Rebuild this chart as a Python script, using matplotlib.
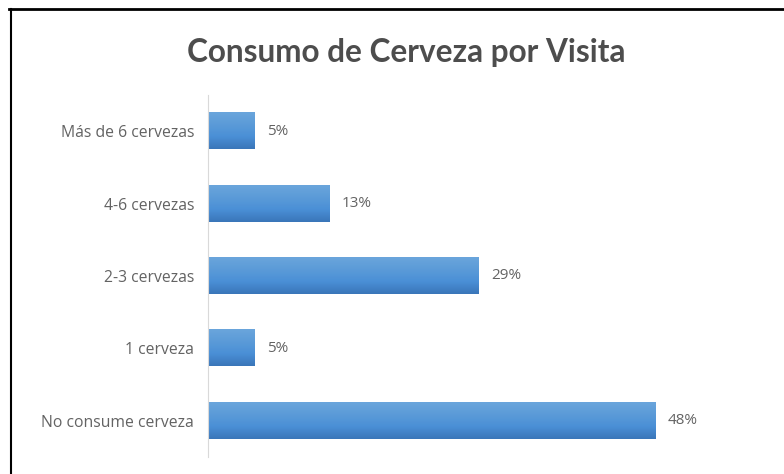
"""Horizontal bar chart: beer consumption per visit (share of respondents)."""

import matplotlib
matplotlib.use("Agg")
import matplotlib.pyplot as plt
from matplotlib.colors import LinearSegmentedColormap
from matplotlib.lines import Line2D
import numpy as np

CATEGORIES = [
    "No consume cerveza",
    "1 cerveza",
    "2-3 cervezas",
    "4-6 cervezas",
    "Más de 6 cervezas",
]
SHARES = [48, 5, 29, 13, 5]
VALUE_LABELS = ["48%", "5%", "29%", "13%", "5%"]
TITLE = "Consumo de Cerveza por Visita"

TEXT_GRAY = "#636363"
AXIS_GRAY = "#d9d9d9"
BAR_HEIGHT = 0.5
LABEL_FONT = ["Open Sans", "DejaVu Sans"]

# darker bottom edge, lighter top edge
BAR_CMAP = LinearSegmentedColormap.from_list(
    "bar_fill", ["#3a76b9", "#4a8fd6", "#5b9bd8", "#6aa5dc"]
)

plt.rcParams["font.family"] = ["Lato", "DejaVu Sans"]

fig = plt.figure(figsize=(7.84, 4.74), dpi=100)
ax = fig.add_axes([0.2653, 0.0359, 0.654, 0.7637])

ypos = np.arange(len(CATEGORIES))
bars = ax.barh(ypos, SHARES, height=BAR_HEIGHT, color="none", edgecolor="none")

gradient = np.linspace(0, 1, 64).reshape(-1, 1)
for bar in bars:
    x0, y0 = bar.get_x(), bar.get_y()
    w, h = bar.get_width(), bar.get_height()
    ax.imshow(
        gradient,
        cmap=BAR_CMAP,
        extent=(x0, x0 + w, y0, y0 + h),
        origin="lower",
        aspect="auto",
        interpolation="bicubic",
        zorder=2,
    )

for y, share, label in zip(ypos, SHARES, VALUE_LABELS):
    ax.annotate(
        label,
        xy=(share, y),
        xytext=(9, 0),
        textcoords="offset points",
        ha="left",
        va="center",
        fontsize=11,
        color=TEXT_GRAY,
        family=LABEL_FONT,
    )

ax.set_xlim(0, 55)
ax.set_ylim(-0.5, len(CATEGORIES) - 0.5)
ax.set_yticks(ypos)
ax.set_yticklabels(CATEGORIES, fontsize=11.3, color=TEXT_GRAY, family=LABEL_FONT)
ax.tick_params(axis="y", length=0, pad=10)
ax.set_xticks([])
for side in ("top", "right", "bottom"):
    ax.spines[side].set_visible(False)
ax.spines["left"].set_color(AXIS_GRAY)
ax.spines["left"].set_linewidth(0.8)

fig.text(
    0.518, 0.889, TITLE,
    ha="center", va="center",
    fontsize=22.7, color="#4d4d4d", fontweight="bold",
)

# frame lines along the top and left edges
fig.add_artist(Line2D([0.012, 1.0], [0.981, 0.981], color="black", linewidth=2,
                      transform=fig.transFigure))
fig.add_artist(Line2D([0.0135, 0.0135], [0.0, 0.981], color="black", linewidth=1.5,
                      transform=fig.transFigure))

fig.savefig("out.png", dpi=100)
